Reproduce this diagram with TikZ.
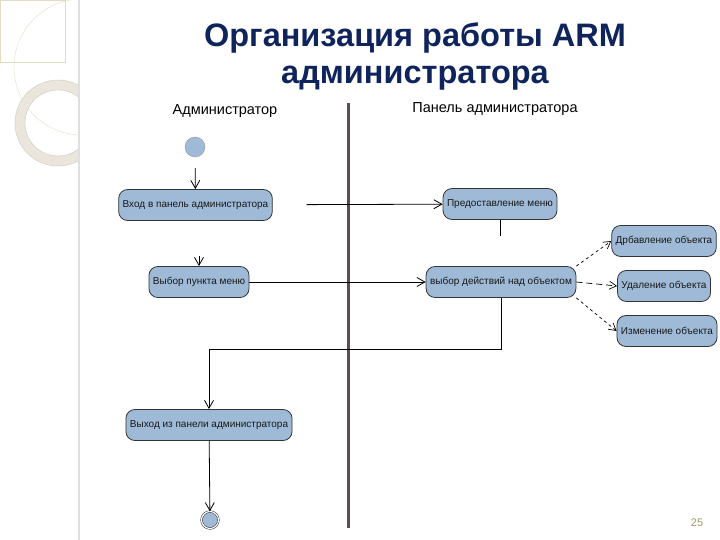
\documentclass[tikz,border=0pt]{standalone}
\usepackage{fontspec}
\setmainfont{Liberation Sans}
\usetikzlibrary{arrows.meta}

\definecolor{boxblue}{RGB}{158,186,214}
\definecolor{titleblue}{RGB}{16,36,92}
\definecolor{lanegray}{RGB}{92,78,78}
\definecolor{decobeige}{RGB}{226,220,196}
\definecolor{ringgray}{RGB}{234,230,222}

\tikzset{
    act/.style={draw=black!80, line width=0.8pt, fill=boxblue, rounded corners=9pt, minimum height=31pt,
        inner xsep=4pt, text=black!90, font=\fontsize{10}{12}\selectfont},
    flow/.style={-{Straight Barb[length=8pt,width=9pt]}, line width=0.8pt},
    opt/.style={-{Straight Barb[length=7pt,width=8pt]}, line width=0.7pt, dash pattern=on 3pt off 3pt},
    lane/.style={font=\fontsize{14.5}{17}\selectfont, text=black}
}

\begin{document}
\begin{tikzpicture}[x=1pt,y=-1pt]
    \useasboundingbox (0,0) rectangle (720,540);

    % Slide decoration
    \begin{scope}
        \clip (0,0) rectangle (79,540);
        \draw[decobeige, thin] (0,0) rectangle (65,62);
        \draw[decobeige, thin] (82,67) circle[radius=68];
        \fill[ringgray, even odd rule] (58,123) circle[radius=43] (58,123) circle[radius=33];
        \draw[decobeige!80!gray] (58,123) circle[radius=43] (58,123) circle[radius=33];
    \end{scope}
    \draw[gray!25, line width=2.5pt] (79,0) -- (79,540);

    % Title
    \node (title) at (415,56) [align=center, font=\bfseries\fontsize{32.5}{37}\selectfont, text=titleblue]
        {Организация работы ARM\\администратора};

    % Swimlanes
    \node (admin) at (225,111) [lane] {Администратор};
    \node (panel) at (495,109) [lane] {Панель администратора};
    \coordinate (lanetop) at (348,103);
    \coordinate (lanebot) at (348,528);
    \draw[lanegray, line width=3pt] (lanetop) -- (lanebot);

    % Activities
    \node (start) at (195,147) [circle, draw=black!40, fill=boxblue, minimum size=20pt, inner sep=0pt] {};
    \node (vhod) at (195.5,205) [act] {Вход в панель администратора};
    \node (menu) at (500,204) [act] {Предоставление меню};
    \node (vybor) at (199,282) [act] {Выбор пункта меню};
    \node (deistv) at (501,282) [act] {выбор действий над объектом};
    \node (add) at (664,241) [act] {Дрбавление объекта};
    \node (del) at (664,286) [act] {Удаление объекта};
    \node (edit) at (667,331) [act] {Изменение объекта};
    \node (exit) at (209,425) [act] {Выход из панели администратора};
    \node (end) at (210,520) [circle, draw=black, double=white, double distance=1.3pt,
        fill=boxblue, minimum size=17pt, inner sep=0pt] {};

    % Transitions
    \coordinate (stub) at (500,236);
    \coordinate (vyborin) at (199,256);
    \coordinate (bend) at (209,349);
    \draw[flow, shorten <=11pt] (start) -- (vhod);
    \draw[flow, shorten <=34pt] (vhod) -- (menu);
    \draw[line width=0.8pt] (menu.south) -- (stub);
    \draw[flow] (vyborin) -- (vybor);
    \draw[flow] (vybor) -- (deistv);
    \draw[opt] (deistv.north east) -- (add.west);
    \draw[opt, dash pattern=on 6pt off 4pt] (deistv.east) -- (del.west);
    \draw[opt] (deistv.south east) -- (edit.west);
    \draw[flow] (deistv.south) |- (bend) -- (exit);
    \draw[flow] (exit) -- (end);

    % Page number
    \node (page) at (697,523) [text=black!45!olive!60, font=\fontsize{11}{13}\selectfont] {25};
\end{tikzpicture}
\end{document}
